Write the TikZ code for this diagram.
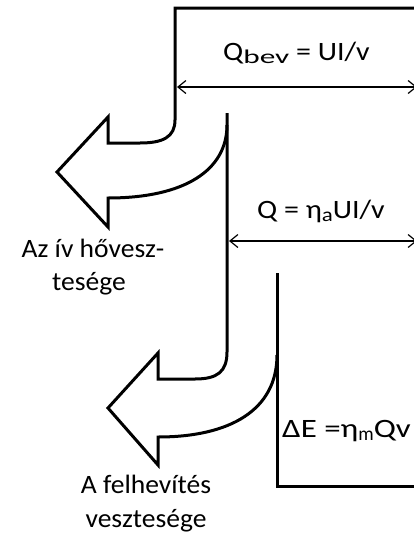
\documentclass[tikz,border=0pt]{standalone}
\usepackage{graphicx}
\usepackage{fontspec}
\setmainfont{Carlito}[FakeStretch=1.04]
\newfontfamily\formfont{Carlito}[FakeStretch=1.13]
\usetikzlibrary{arrows.meta}
\newcommand\lowsub[2]{\raisebox{-3.5pt}{\resizebox{#1}{\height}{\fontsize{19.5}{19.5}\selectfont #2}}}
\begin{document}
\begin{tikzpicture}[x=1pt,y=-1pt,
  wall/.style={line width=3pt, line join=miter, line cap=butt},
  dim/.style={line width=1.2pt, {Straight Barb[length=8pt,width=13pt]}-{Straight Barb[length=8pt,width=13pt]}},
  formula/.style={font=\formfont\fontsize{26.5}{31}\selectfont, anchor=base west, inner sep=0pt},
  lossl/.style={font=\fontsize{26.5}{31}\selectfont, anchor=base, inner sep=0pt}]
\useasboundingbox (0,0) rectangle (414,536);
% outer box and first loss arrow
\draw[wall] (440,8) -- (175,8) -- (175,120)
  .. controls (175,137) and (163,143) .. (140,143) -- (108,143) -- (108,117)
  -- (57,172) -- (108,227) -- (108,198)
  .. controls (185,198) and (227,170) .. (227,125);
% second loss arrow
\draw[wall] (227,113) -- (227,352)
  .. controls (227,372) and (217,379) .. (195,379) -- (158,379) -- (158,353)
  -- (108,408) -- (158,465) -- (158,437)
  .. controls (230,437) and (277,410) .. (277,355);
% remaining useful band
\draw[wall] (277,273) -- (277,486) -- (440,486);
% dimension arrows
\coordinate (d1l) at (177,87);
\coordinate (d1r) at (417,87);
\coordinate (d2l) at (229,241);
\coordinate (d2r) at (417,241);
\draw[dim] (d1l) -- (d1r);
\draw[dim] (d2l) -- (d2r);
% formulas
\node[formula] (qbev) at (223,60) {Q\lowsub{46pt}{bev} = UI/v};
\node[formula] (qa) at (257,218) {Q = η\lowsub{11pt}{a}UI/v};
\node[formula] (de) at (282,437) {\scalebox{1.1}[1]{ΔE =η\lowsub{14pt}{m}Qv}};
% loss labels
\node[lossl] (ivA) at (93,257) {Az ív hővesz-};
\node[lossl] (ivB) at (89,290) {tesége};
\node[lossl] (feA) at (146,493) {A felhevítés};
\node[lossl] (feB) at (146,527) {vesztesége};
\end{tikzpicture}
\end{document}
